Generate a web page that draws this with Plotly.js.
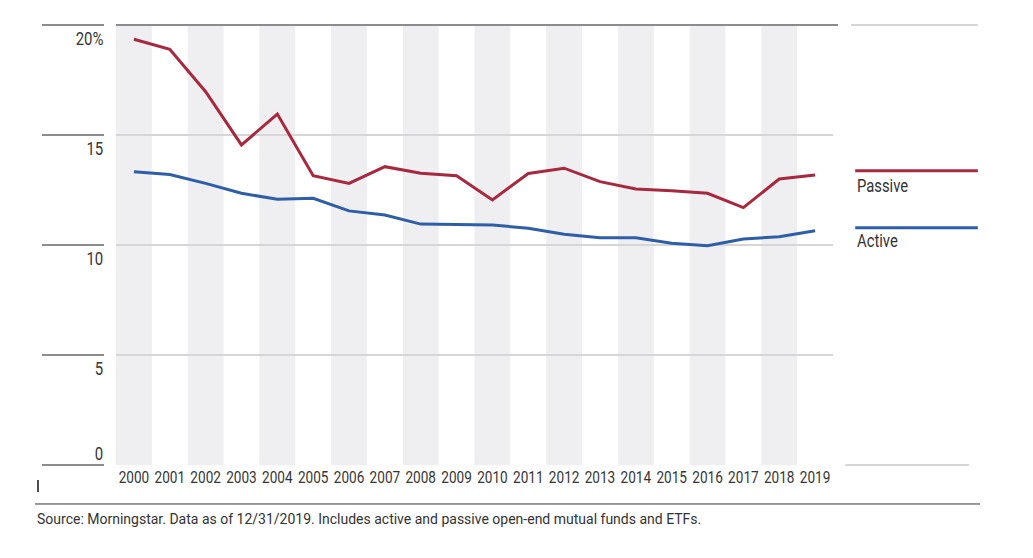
<!DOCTYPE html>
<html>
<head>
<meta charset="utf-8">
<script src="https://cdn.plot.ly/plotly-3.0.1.min.js"></script>
<style>
  html, body { margin: 0; padding: 0; background: #ffffff; }
  #chart { width: 1033px; height: 558px; }
</style>
</head>
<body>
<div id="chart"></div>
<script>
// ---- data ----
var years = [2000, 2001, 2002, 2003, 2004, 2005, 2006, 2007, 2008, 2009,
             2010, 2011, 2012, 2013, 2014, 2015, 2016, 2017, 2018, 2019];
var passive = [19.35, 18.9, 16.97, 14.55, 15.95, 13.15, 12.8, 13.56, 13.26, 13.15,
               12.05, 13.25, 13.49, 12.88, 12.55, 12.47, 12.35, 11.7, 13.0, 13.18];
var active = [13.33, 13.2, 12.8, 12.35, 12.08, 12.12, 11.55, 11.36, 10.95, 10.94,
              10.91, 10.76, 10.49, 10.33, 10.33, 10.08, 9.97, 10.27, 10.38, 10.65];
var yTickVals = [0, 5, 10, 15, 20];
var yTickText = ['0', '5', '10', '15', '20%'];
var xTickText = years.map(String);
var seriesNames = ['Passive', 'Active'];
var sourceNote = 'Source: Morningstar. Data as of 12/31/2019. Includes active and passive open-end mutual funds and ETFs.';

// ---- styling ----
var FONT = 'Roboto, "DejaVu Sans Condensed", sans-serif';
var TXT = '#363636';
var RED = '#a8283f';
var BLUE = '#2f5ea9';
var YMIN = 0, YMAX = 20;
function py(v) { return (v - YMIN) / (YMAX - YMIN); }

var shapes = [];
// alternating stripes (even years)
years.forEach(function (yr, i) {
  if (i % 2 === 0) {
    shapes.push({type: 'rect', xref: 'x', yref: 'paper', x0: yr - 0.5, x1: yr + 0.5,
      y0: 0, y1: 1, fillcolor: '#efeff2', line: {width: 0}, layer: 'below'});
  }
});
// left tick segments
yTickVals.forEach(function (v) {
  shapes.push({type: 'line', xref: 'paper', yref: 'paper', x0: -0.1032, x1: -0.0167,
    y0: py(v), y1: py(v), line: {color: '#8c8c8c', width: 2}});
});
// top dark line
shapes.push({type: 'line', xref: 'paper', yref: 'paper', x0: 0, x1: 1.007,
  y0: py(20), y1: py(20), line: {color: '#8c8c8c', width: 2}});
// right light segments
shapes.push({type: 'line', xref: 'paper', yref: 'paper', x0: 1.025, x1: 1.202,
  y0: py(20), y1: py(20), line: {color: '#d6d6d6', width: 2}});
shapes.push({type: 'line', xref: 'paper', yref: 'paper', x0: 1.017, x1: 1.19,
  y0: py(0), y1: py(0), line: {color: '#d6d6d6', width: 2}});
// legend lines
shapes.push({type: 'line', xref: 'paper', yref: 'paper', x0: 1.031, x1: 1.202,
  y0: 0.669, y1: 0.669, line: {color: RED, width: 3}});
shapes.push({type: 'line', xref: 'paper', yref: 'paper', x0: 1.031, x1: 1.202,
  y0: 0.539, y1: 0.539, line: {color: BLUE, width: 3}});
// footer rule and small bar
shapes.push({type: 'line', xref: 'paper', yref: 'paper', x0: -0.113, x1: 1.205,
  y0: -0.0886, y1: -0.0886, line: {color: '#333333', width: 1}});
shapes.push({type: 'line', xref: 'paper', yref: 'paper', x0: -0.1088, x1: -0.1088,
  y0: -0.034, y1: -0.0614, line: {color: '#111111', width: 1.5}});

var annotations = [];
yTickVals.forEach(function (v, i) {
  annotations.push({xref: 'paper', yref: 'y', x: -0.016, y: v, xanchor: 'right', align: 'right',
    yanchor: 'middle', yshift: v === 0 ? 12 : -13.5, showarrow: false, text: yTickText[i],
    font: {family: FONT, size: 18, color: TXT}});
});
annotations.push({xref: 'paper', yref: 'paper', x: 1.031, y: 0.635, xanchor: 'left', align: 'left',
  yanchor: 'middle', showarrow: false, text: seriesNames[0],
  font: {family: FONT, size: 19, color: '#333333'}});
annotations.push({xref: 'paper', yref: 'paper', x: 1.031, y: 0.51, xanchor: 'left', align: 'left',
  yanchor: 'middle', showarrow: false, text: seriesNames[1],
  font: {family: FONT, size: 19, color: '#333333'}});
annotations.push({xref: 'paper', yref: 'paper', x: -0.113, y: -0.1227, xanchor: 'left', align: 'left',
  yanchor: 'middle', showarrow: false, text: sourceNote,
  font: {family: FONT, size: 14, color: '#333333'}});

var traces = [
  {x: years, y: passive, name: seriesNames[0], type: 'scatter', mode: 'lines',
   line: {color: RED, width: 3}},
  {x: years, y: active, name: seriesNames[1], type: 'scatter', mode: 'lines',
   line: {color: BLUE, width: 3}}
];

var layout = {
  width: 1033, height: 558,
  margin: {l: 116, r: 200, t: 25, b: 93},
  paper_bgcolor: '#ffffff', plot_bgcolor: 'rgba(0,0,0,0)',
  showlegend: false,
  font: {family: FONT, color: TXT},
  xaxis: {range: [1999.5, 2019.5], tickvals: years, ticktext: xTickText, tickangle: 0,
    showgrid: false, zeroline: false, showline: false, ticks: '',
    tickfont: {family: FONT, size: 17, color: TXT}, fixedrange: true},
  yaxis: {range: [YMIN, YMAX], tickvals: yTickVals, showticklabels: false,
    showgrid: true, gridcolor: '#d6d6d6', gridwidth: 2, zeroline: false,
    showline: false, ticks: '', fixedrange: true},
  shapes: shapes,
  annotations: annotations
};

// horizontal squeeze to imitate a condensed typeface
function squeeze(el, s) {
  var x = parseFloat(el.getAttribute('x')) || 0;
  var t = el.getAttribute('transform') || '';
  el.setAttribute('transform', t + ' translate(' + x + ',0) scale(' + s + ',1) translate(' + (-x) + ',0)');
}

Plotly.newPlot('chart', traces, layout, {staticPlot: true, displayModeBar: false}).then(function (gd) {
  gd.querySelectorAll('.xtick text').forEach(function (el) { squeeze(el, 0.80); });
  gd.querySelectorAll('.annotation-text').forEach(function (el) {
    var txt = el.textContent;
    if (yTickText.indexOf(txt) >= 0) squeeze(el, 0.83);
    else if (seriesNames.indexOf(txt) >= 0) squeeze(el, 0.78);
  });
});
</script>
</body>
</html>
